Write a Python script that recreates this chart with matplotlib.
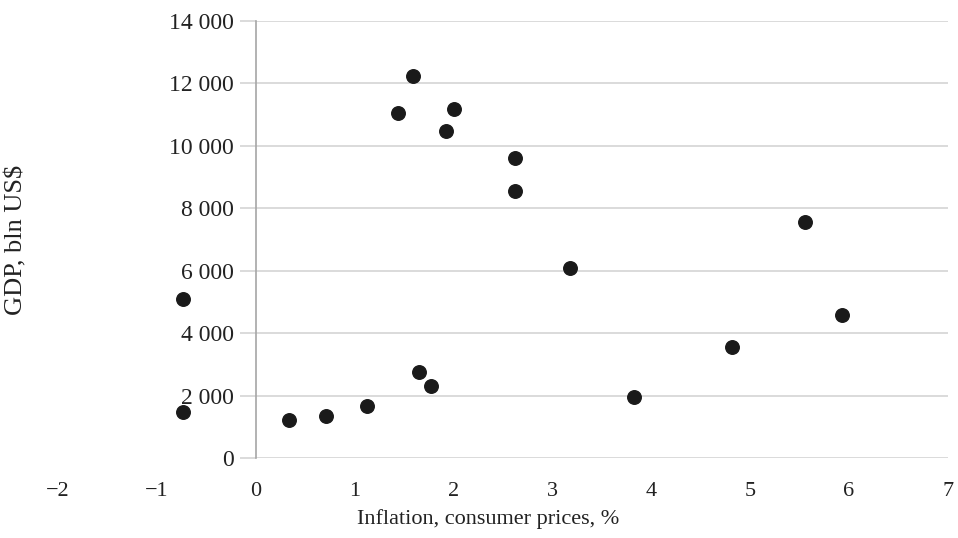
import matplotlib.pyplot as plt
from matplotlib.ticker import FuncFormatter

# Inflation (%) vs GDP (bln US$)
inflation = [-0.74, -0.74, 0.34, 0.71, 1.13, 1.65, 1.77, 1.44, 1.59, 2.00,
             1.92, 2.62, 2.62, 3.18, 3.83, 4.82, 5.55, 5.93]
gdp = [5100, 1470, 1220, 1340, 1660, 2760, 2300, 11050, 12230, 11180,
       10480, 9610, 8550, 6090, 1950, 3560, 7560, 4580]

x_ticks = [-2, -1, 0, 1, 2, 3, 4, 5, 6, 7]
y_ticks = [0, 2000, 4000, 6000, 8000, 10000, 12000, 14000]

plt.rcParams['font.family'] = ['Liberation Serif', 'DejaVu Serif']
plt.rcParams['font.size'] = 16

fig = plt.figure(figsize=(9.58, 5.38), dpi=100)
ax = fig.add_axes([0.0605, 0.1487, 0.929, 0.8123])

# horizontal gridlines only on the right of the y axis
ax.hlines(y_ticks, 0, 7, colors='#d4d4d4', linewidth=1.2, zorder=1)
ax.scatter(inflation, gdp, s=95, color='#1a1a1a', zorder=3, clip_on=False)

ax.set_xlim(-2, 7)
ax.set_ylim(0, 14000)
ax.set_xticks(x_ticks)
ax.set_yticks(y_ticks)
ax.yaxis.set_major_formatter(FuncFormatter(lambda v, p: f'{int(v):,}'.replace(',', ' ')))

for side in ['top', 'right', 'bottom']:
    ax.spines[side].set_visible(False)
ax.spines['left'].set_position(('data', 0))
ax.spines['left'].set_color('#a6a6a6')
ax.spines['left'].set_linewidth(1.2)

ax.tick_params(axis='y', direction='out', length=11.5, width=1.2, color='#d4d4d4', pad=4,
               labelcolor='#222222', labelsize=17)
ax.tick_params(axis='x', length=0, pad=17, labelcolor='#222222')

ax.set_xlabel('Inflation, consumer prices, %', color='#222222')
ax.xaxis.set_label_coords(0.483, -0.118)
fig.text(0.017, 0.554, 'GDP, bln US$', rotation=90, va='center', ha='center', color='#222222', fontsize=19)

fig.savefig('out.png', dpi=100)
